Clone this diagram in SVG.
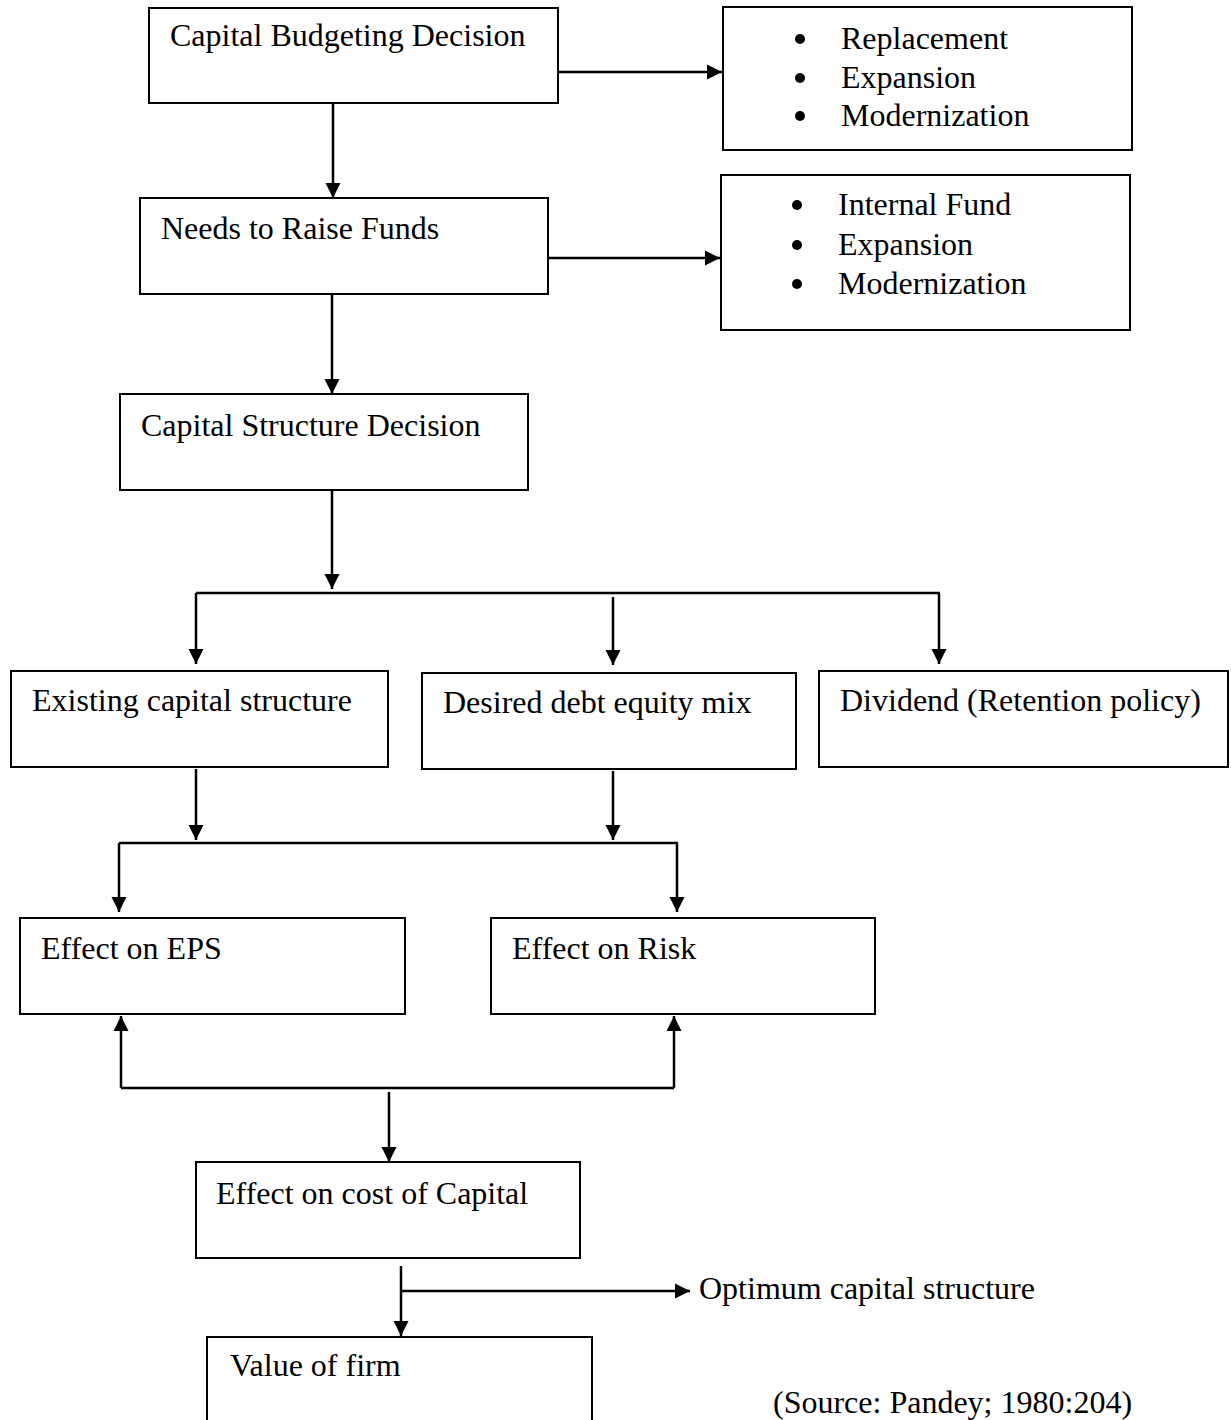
<svg xmlns="http://www.w3.org/2000/svg" width="1231" height="1420" viewBox="0 0 1231 1420">
<style>
.box{fill:#fff;stroke:#000;stroke-width:2}
.t{font-family:"Liberation Serif","Times New Roman",serif;font-size:32px;fill:#000}
.c{stroke:#000;stroke-width:2.5;fill:none}
.a{marker-end:url(#ah)}
</style>
<defs>
<marker id="ah" markerUnits="userSpaceOnUse" markerWidth="16" markerHeight="16" refX="15" refY="8" orient="auto">
<path d="M0,0.5 L15,8 L0,15.5 z" fill="#000"/>
</marker>
</defs>
<rect width="1231" height="1420" fill="#fff"/>
<g id="connectors">
<line class="c a" x1="558" y1="72" x2="722" y2="72"/>
<line class="c a" x1="333" y1="104" x2="333" y2="198"/>
<line class="c a" x1="548" y1="258" x2="720" y2="258"/>
<line class="c a" x1="332" y1="295" x2="332" y2="394"/>
<line class="c a" x1="332" y1="491" x2="332" y2="589"/>
<line class="c" x1="196" y1="593" x2="940" y2="593"/>
<line class="c a" x1="196" y1="593" x2="196" y2="664"/>
<line class="c a" x1="613" y1="597" x2="613" y2="665"/>
<line class="c a" x1="939" y1="593" x2="939" y2="664"/>
<line class="c a" x1="196" y1="769" x2="196" y2="840"/>
<line class="c a" x1="613" y1="771" x2="613" y2="840"/>
<line class="c" x1="119" y1="843" x2="678" y2="843"/>
<line class="c a" x1="119" y1="843" x2="119" y2="912"/>
<line class="c a" x1="677" y1="843" x2="677" y2="912"/>
<line class="c a" x1="121" y1="1088" x2="121" y2="1016"/>
<line class="c a" x1="674" y1="1088" x2="674" y2="1016"/>
<line class="c" x1="121" y1="1088" x2="674" y2="1088"/>
<line class="c a" x1="389" y1="1092" x2="389" y2="1162"/>
<line class="c a" x1="401" y1="1266" x2="401" y2="1336"/>
<line class="c a" x1="401" y1="1291" x2="690" y2="1291"/>
</g>
<g id="n1"><rect class="box" x="149" y="8" width="409" height="95"/><text class="t" x="170" y="46">Capital Budgeting Decision</text></g>
<g id="n2"><rect class="box" x="723" y="7" width="409" height="143"/>
<circle cx="800" cy="39" r="5"/><circle cx="800" cy="78" r="5"/><circle cx="800" cy="116" r="5"/>
<text class="t" x="841" y="49">Replacement</text><text class="t" x="841" y="88">Expansion</text><text class="t" x="841" y="126">Modernization</text></g>
<g id="n3"><rect class="box" x="140" y="198" width="408" height="96"/><text class="t" x="161" y="239">Needs to Raise Funds</text></g>
<g id="n4"><rect class="box" x="721" y="175" width="409" height="155"/>
<circle cx="797" cy="205" r="5"/><circle cx="797" cy="245" r="5"/><circle cx="797" cy="284" r="5"/>
<text class="t" x="838" y="215">Internal Fund</text><text class="t" x="838" y="255">Expansion</text><text class="t" x="838" y="294">Modernization</text></g>
<g id="n5"><rect class="box" x="120" y="394" width="408" height="96"/><text class="t" x="141" y="436">Capital Structure Decision</text></g>
<g id="n6"><rect class="box" x="11" y="671" width="377" height="96"/><text class="t" x="32" y="711">Existing capital structure</text></g>
<g id="n7"><rect class="box" x="422" y="673" width="374" height="96"/><text class="t" x="443" y="713">Desired debt equity mix</text></g>
<g id="n8"><rect class="box" x="819" y="671" width="409" height="96"/><text class="t" x="840" y="711">Dividend (Retention policy)</text></g>
<g id="n9"><rect class="box" x="20" y="918" width="385" height="96"/><text class="t" x="41" y="959">Effect on EPS</text></g>
<g id="n10"><rect class="box" x="491" y="918" width="384" height="96"/><text class="t" x="512" y="959">Effect on Risk</text></g>
<g id="n11"><rect class="box" x="196" y="1162" width="384" height="96"/><text class="t" x="216" y="1204">Effect on cost of Capital</text></g>
<g id="n12"><rect class="box" x="207" y="1337" width="385" height="100"/><text class="t" x="230" y="1376">Value of firm</text></g>
<text class="t" x="699" y="1299">Optimum capital structure</text>
<text class="t" x="773" y="1413">(Source: Pandey; 1980:204)</text>
</svg>
